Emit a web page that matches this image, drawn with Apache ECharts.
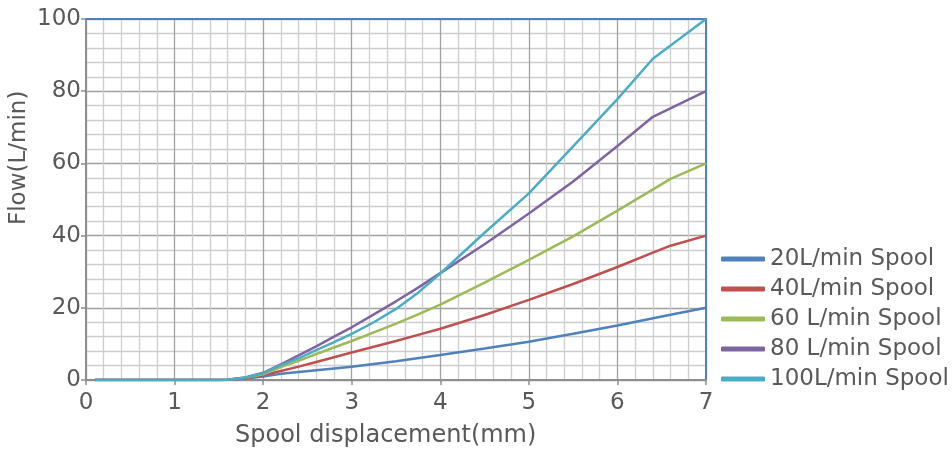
<!DOCTYPE html>
<html>
<head>
<meta charset="utf-8">
<script src="https://cdn.jsdelivr.net/npm/echarts@6/dist/echarts.min.js"></script>
<style>html,body{margin:0;padding:0;background:#fff}#c{width:952px;height:450px}</style>
</head>
<body>
<div id="c"></div>
<script>
var seriesNames = ['20L/min Spool', '40L/min Spool', '60 L/min Spool', '80 L/min Spool', '100L/min Spool'];
var xTicks = [0, 1, 2, 3, 4, 5, 6, 7];
var yTicks = [0, 20, 40, 60, 80, 100];

var x20 = [0.1, 1.5, 1.6, 1.8, 2.0, 2.2, 2.4, 2.6, 2.8, 3.0, 3.5, 4.0, 4.5, 5.0, 5.5, 6.0, 6.5, 7.0];
var y20 = [0, 0, 0.1, 0.4, 1.0, 1.7, 2.2, 2.7, 3.2, 3.7, 5.2, 6.9, 8.7, 10.6, 12.8, 15.1, 17.6, 20];

var x40 = [0.1, 1.5, 1.6, 1.8, 2.0, 2.2, 2.4, 2.6, 2.8, 3.0, 3.25, 3.5, 3.75, 4.0, 4.5, 5.0, 5.5, 6.0, 6.4, 6.6, 7.0];
var y40 = [0, 0, 0.1, 0.5, 1.3, 2.5, 3.7, 5.0, 6.3, 7.6, 9.2, 10.8, 12.5, 14.2, 18.0, 22.2, 26.6, 31.3, 35.3, 37.2, 40];

var x60 = [0.1, 1.5, 1.6, 1.8, 2.0, 2.2, 2.4, 2.6, 2.8, 3.0, 3.25, 3.5, 3.75, 4.0, 4.5, 5.0, 5.5, 6.0, 6.6, 7.0];
var y60 = [0, 0, 0.1, 0.6, 1.6, 3.6, 5.3, 7.2, 9.0, 10.8, 13.2, 15.6, 18.2, 20.9, 27.0, 33.3, 39.8, 46.9, 55.7, 60];

var x80 = [0.1, 1.5, 1.6, 1.8, 2.0, 2.2, 2.4, 2.6, 2.8, 3.0, 3.25, 3.5, 3.75, 4.0, 4.5, 5.0, 5.5, 6.0, 6.4, 7.0];
var y80 = [0, 0, 0.1, 0.7, 2.0, 4.3, 6.8, 9.3, 12.0, 14.6, 18.2, 21.8, 25.6, 29.6, 37.6, 46.1, 55.0, 64.8, 72.9, 80];

var x100 = [0.1, 1.5, 1.6, 1.8, 2.0, 2.2, 2.4, 2.6, 2.8, 3.0, 3.25, 3.5, 3.75, 4.0, 4.5, 5.0, 5.5, 6.0, 6.4, 7.0];
var y100 = [0, 0, 0.1, 0.7, 1.9, 4.1, 6.0, 8.3, 10.5, 12.8, 16.0, 19.7, 24.2, 29.5, 40.8, 51.7, 64.7, 77.8, 89.0, 100];

var colors = ['#4F81BD', '#C0504D', '#9BBB59', '#8064A2', '#4BACC6'];
var FONT = 'DejaVu Sans';
var TXT = '#595959';

function pairs(xs, ys) { return xs.map(function (x, i) { return [x, ys[i]]; }); }
var allX = [x20, x40, x60, x80, x100];
var allY = [y20, y40, y60, y80, y100];

var series = seriesNames.map(function (n, i) {
  return {
    name: n, type: 'line', data: pairs(allX[i], allY[i]),
    showSymbol: false, symbol: 'none', smooth: false,
    lineStyle: { color: colors[i], width: 2.5 }, itemStyle: { color: colors[i] },
    xAxisIndex: 0, yAxisIndex: 0, z: 5
  };
});

var chart = echarts.init(document.getElementById('c'), null, { renderer: 'canvas' });
chart.setOption({
  animation: false,
  color: colors,
  grid: { left: 86, right: 246, top: 19, bottom: 70, containLabel: false },
  xAxis: [{
    type: 'value', position: 'top', min: 0, max: 7,
    axisLine: { show: true, onZero: false, lineStyle: { color: '#4F81BD', width: 2 } },
    axisTick: { show: false }, axisLabel: { show: false }, splitLine: { show: false }
  }, {
    type: 'value', position: 'bottom', min: xTicks[0], max: xTicks[xTicks.length - 1], interval: 1,
    axisLine: { show: true, onZero: false, lineStyle: { color: '#8e8e8e', width: 2 } },
    axisTick: { show: true, length: 5, lineStyle: { color: '#8e8e8e', width: 1.5 } },
    axisLabel: { color: TXT, fontFamily: FONT, fontSize: 23, margin: 12 },
    splitLine: { show: true, lineStyle: { color: '#a0a0a0', width: 1.3 } },
    minorTick: { show: false, splitNumber: 5 },
    minorSplitLine: { show: true, lineStyle: { color: '#cdcdcd', width: 1.3 } }
  }],
  yAxis: [{
    type: 'value', position: 'right', min: 0, max: 100,
    axisLine: { show: true, onZero: false, lineStyle: { color: '#4F81BD', width: 2 } },
    axisTick: { show: false }, axisLabel: { show: false }, splitLine: { show: false }
  }, {
    type: 'value', position: 'left', min: yTicks[0], max: yTicks[yTicks.length - 1], interval: 20,
    axisLine: { show: true, onZero: false, lineStyle: { color: '#8e8e8e', width: 2 } },
    axisTick: { show: true, length: 5, lineStyle: { color: '#8e8e8e', width: 1.5 } },
    axisLabel: { color: TXT, fontFamily: FONT, fontSize: 23, margin: 5 },
    splitLine: { show: true, lineStyle: { color: '#a0a0a0', width: 1.3 } },
    minorTick: { show: false, splitNumber: 5 },
    minorSplitLine: { show: true, lineStyle: { color: '#cdcdcd', width: 1.3 } }
  }],
  legend: {
    orient: 'vertical', left: 716, top: 242,
    icon: 'roundRect', itemWidth: 44, itemHeight: 5, itemGap: 6,
    textStyle: { color: TXT, fontFamily: FONT, fontSize: 23, lineHeight: 24 },
    data: seriesNames
  },
  graphic: [
    { type: 'text', left: 235, top: 424, style: { text: 'Spool displacement(mm)', fill: TXT, font: '24px "' + FONT + '"' } },
    { type: 'text', x: 8, y: 225, rotation: Math.PI / 2, style: { text: 'Flow(L/min)', fill: TXT, font: '23px "' + FONT + '"' } }
  ],
  series: series.map(function (s) { s.xAxisIndex = 1; s.yAxisIndex = 1; return s; })
});
</script>
</body>
</html>
